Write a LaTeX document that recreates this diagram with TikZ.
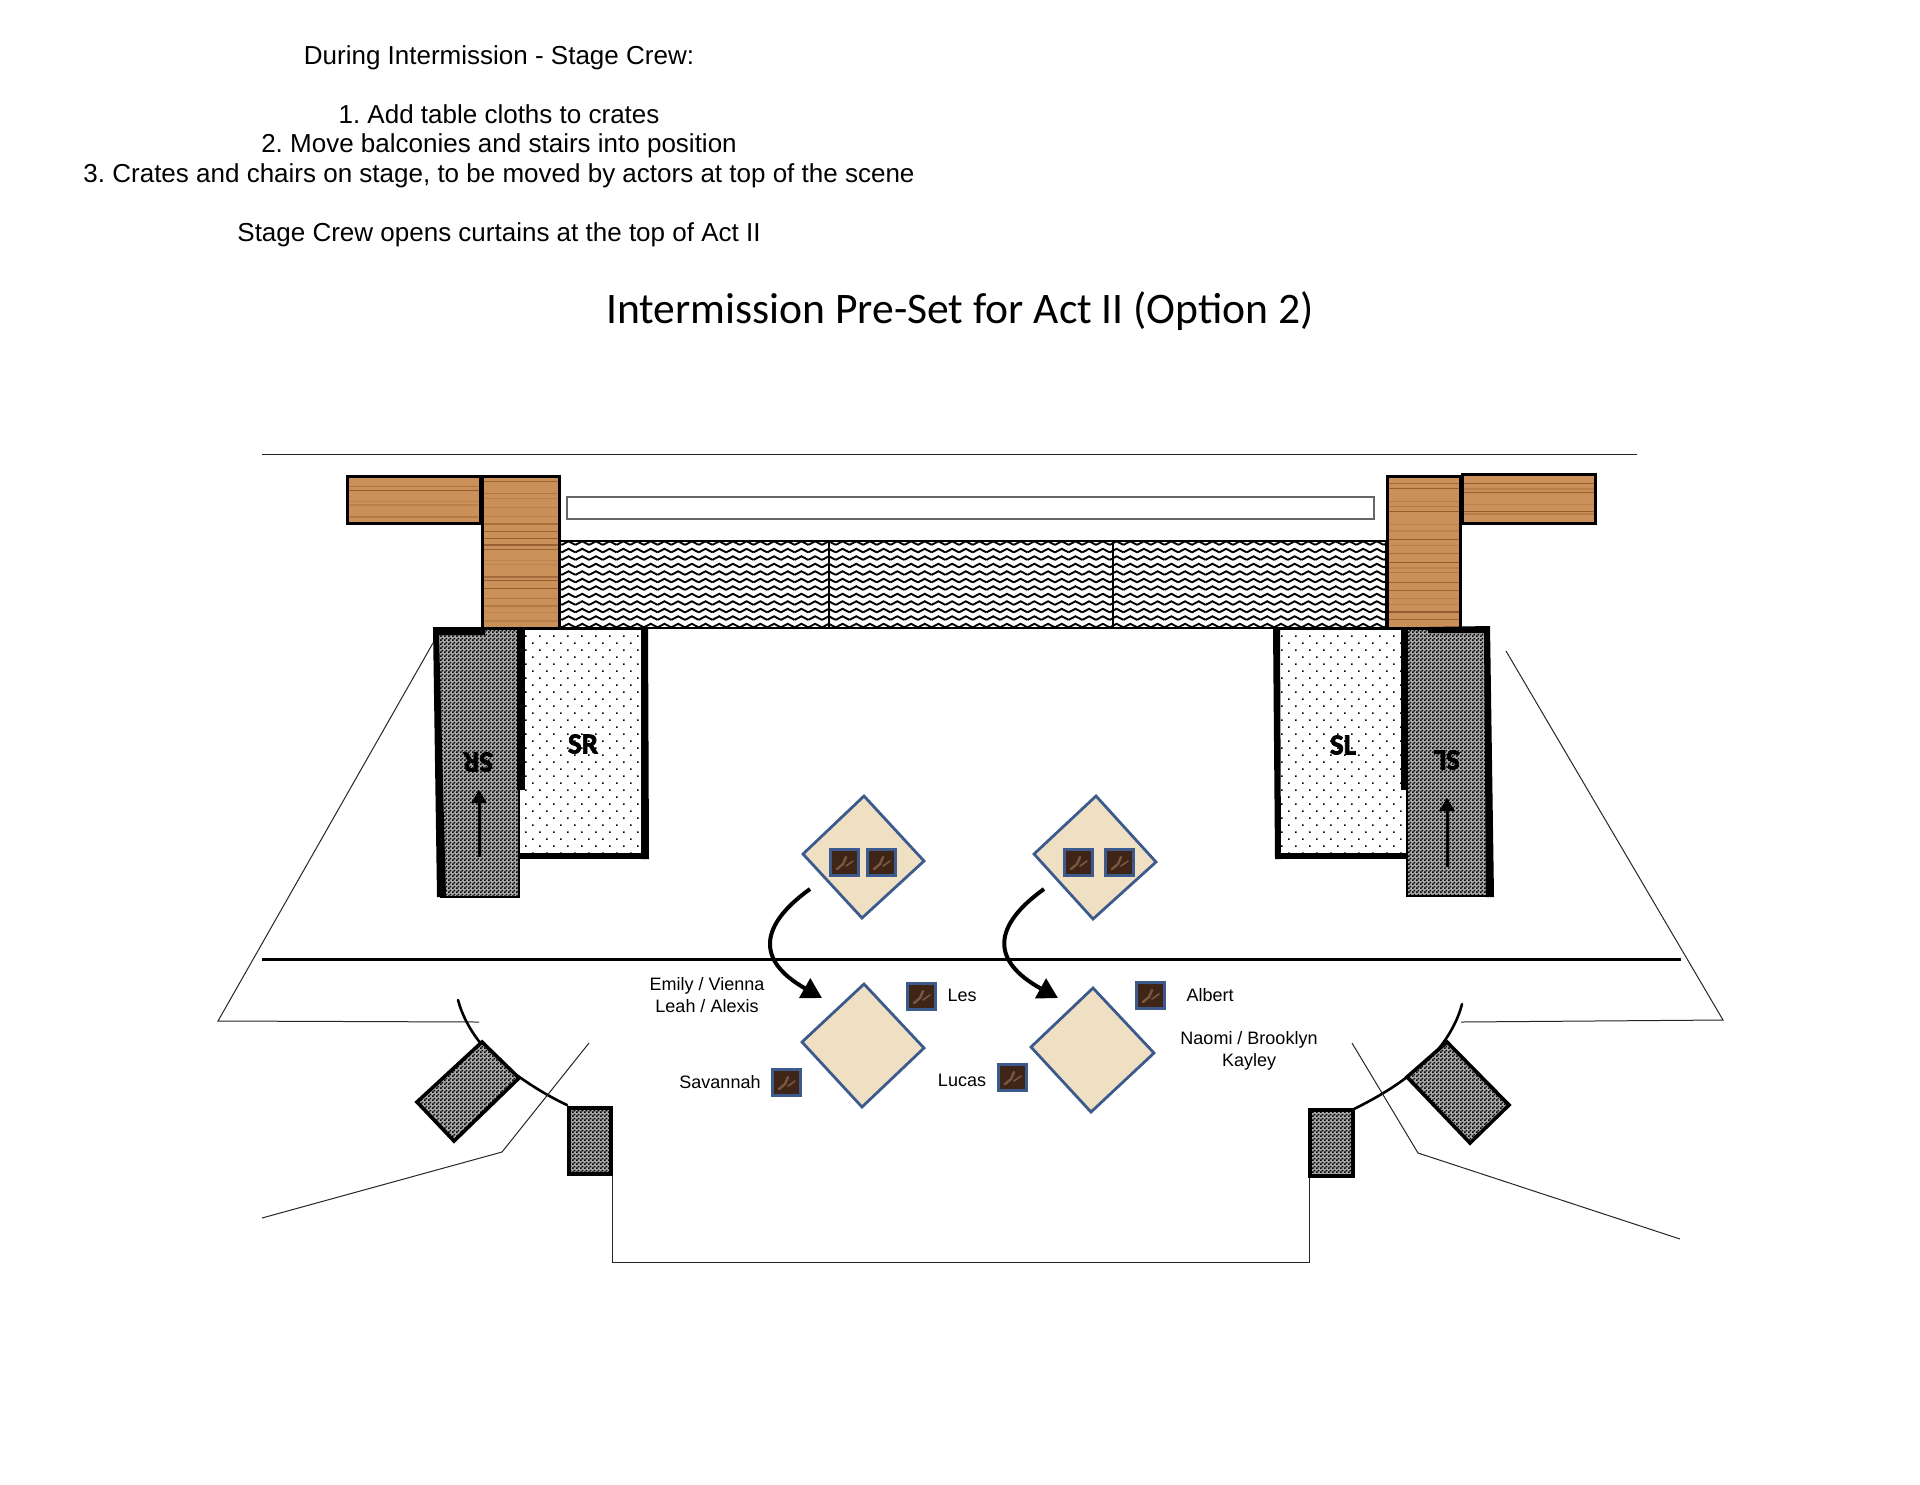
\documentclass[tikz,border=0pt]{standalone}
\usepackage{fontspec}
\setmainfont{Liberation Sans}
\newfontfamily\titlefont{Carlito}
\newfontfamily\wagonfont[FakeBold=2.5]{Carlito Bold}
\usetikzlibrary{patterns,arrows.meta}

\definecolor{woodbase}{HTML}{CB9059}
\definecolor{woodline}{HTML}{7E4A20}
\definecolor{marble}{HTML}{EFE0C3}
\definecolor{edgeblue}{HTML}{3C5A8C}
\definecolor{seatbrown}{HTML}{3F2517}
\definecolor{seatlight}{HTML}{7A5840}
\definecolor{barline}{HTML}{666666}
\definecolor{wagonbase}{HTML}{A8A8A8}

\pgfdeclarepatternformonly{wavepat}{\pgfqpoint{-1pt}{-1pt}}{\pgfqpoint{8pt}{5pt}}{\pgfqpoint{6.85pt}{3.75pt}}{
  \pgfsetlinewidth{0.95pt}
  \pgfpathmoveto{\pgfqpoint{0pt}{0.8pt}}
  \pgfpathlineto{\pgfqpoint{3.42pt}{2.6pt}}
  \pgfpathlineto{\pgfqpoint{6.85pt}{0.8pt}}
  \pgfusepath{stroke}
}
\pgfdeclarepatternformonly{dotpat}{\pgfqpoint{-1pt}{-1pt}}{\pgfqpoint{8pt}{8pt}}{\pgfqpoint{7pt}{7pt}}{
  \pgfpathrectangle{\pgfqpoint{0pt}{0pt}}{\pgfqpoint{0.85pt}{0.85pt}}
  \pgfpathrectangle{\pgfqpoint{3.5pt}{3.5pt}}{\pgfqpoint{0.85pt}{0.85pt}}
  \pgfusepath{fill}
}
\pgfdeclarepatternformonly{checkpat}{\pgfqpoint{0pt}{0pt}}{\pgfqpoint{2pt}{2pt}}{\pgfqpoint{2pt}{2pt}}{
  \pgfpathrectangle{\pgfqpoint{0pt}{0pt}}{\pgfqpoint{1pt}{1pt}}
  \pgfpathrectangle{\pgfqpoint{1pt}{1pt}}{\pgfqpoint{1pt}{1pt}}
  \pgfusepath{fill}
}

\tikzset{
  thinline/.style={line width=0.5pt, draw=black!85},
  frontline/.style={line width=1.3pt, line cap=round},
  heavyarrow/.style={line width=2pt, -{Triangle[length=10pt,width=11pt]}},
  wagonarrow/.style={line width=1.5pt, -{Triangle[length=6.5pt,width=7.5pt]}},
  wavebox/.style={draw=black, line width=1pt, pattern=wavepat},
  dotbox/.style={pattern=dotpat},
  checkbox/.style={preaction={fill=wagonbase}, pattern=checkpat},
  sidebox/.style={line width=1.8pt, preaction={fill=wagonbase}, pattern=checkpat},
  marblebox/.style={fill=marble, draw=edgeblue, line width=1.4pt, line join=miter},
  seatbox/.style={fill=seatbrown, draw=edgeblue, line width=1.5pt},
  tag/.style={font=\fontsize{9}{11}\selectfont, align=center, inner sep=0pt},
  wagonname/.style={font=\wagonfont\fontsize{14.5}{16}\selectfont, inner sep=0pt},
}

\newcommand{\woodblock}[4]{
  \fill[woodbase] (#1,#2) rectangle (#3,#4);
  \pgfmathtruncatemacro{\woodrows}{(#4-#2)/8}
  \foreach \k in {1,...,\woodrows} {
    \pgfmathsetmacro{\woody}{#2+(#4-#2)*\k/(\woodrows+1)+3*rand}
    \pgfmathsetmacro{\woodop}{0.15+0.6*rnd}
    \draw[woodline, line width=0.6pt, opacity=\woodop] (#1,\woody) -- (#3,\woody);
  }
  \draw[line width=1.5pt] (#1,#2) rectangle (#3,#4);
}
\newcommand{\seat}[2]{
  \draw[seatbox] (#1,#2) rectangle ++(28,26);
  \draw[seatlight, line width=1.2pt, line cap=round] (#1+7,#2+20) -- (#1+13,#2+15) -- (#1+16,#2+8);
  \draw[seatlight, line width=0.8pt, line cap=round] (#1+16,#2+17) -- (#1+23,#2+12);
}

\begin{document}
\begin{tikzpicture}[x=0.5pt,y=-0.5pt]
  \useasboundingbox (0,0) rectangle (1920,1484);
  \pgfmathsetseed{17}
  % text
  \node[align=center, font=\frenchspacing\fontsize{13}{14.75}\selectfont, inner sep=0pt] (notes) at (499,146) {During Intermission - Stage Crew:\\ \\1. Add table cloths to crates\\2. Move balconies and stairs into position\\3. Crates and chairs on stage, to be moved by actors at top of the scene\\ \\Stage Crew opens curtains at the top of Act II};
  \node[font=\titlefont\fontsize{21.8}{25}\selectfont, inner sep=0pt] (title) at (960,311) {Intermission Pre-Set for Act II (Option 2)};
  % back wall
  \draw[thinline] (262,454) -- (1637,454);
  \draw[barline, line width=0.7pt] (567,497) rectangle (1374,519);
  \draw[wavebox] (559,541) rectangle (1386,628);
  \draw[line width=1pt] (829,541) -- (829,628);
  \draw[line width=1pt] (1113,541) -- (1113,628);
  \woodblock{347}{476}{480}{523}
  \woodblock{482}{476}{559}{628}
  \woodblock{1387}{476}{1460}{628}
  \woodblock{1462}{474}{1595}{523}
  % SR wagons
  \fill[dotbox] (519,629) rectangle (645,856);
  \draw[line width=1pt] (519,629) -- (645,629);
  \fill (641,628) -- (648,628) -- (649,859) -- (641,859) -- cycle;
  \fill (519,853) rectangle (649,859);
  \fill[checkbox] (439,630) rectangle (519,896);
  \fill (517,628) rectangle (525,790);
  \draw[line width=0.8pt] (519,790) -- (519,897) -- (440,897);
  \fill (433,627) -- (485,627) -- (485,635) -- (439,635) -- (446,897) -- (437,897) -- cycle;
  \node[wagonname] (srflat) at (583,744) {SR};
  \node[wagonname, rotate=180] (srturn) at (478,762) {SR};
  \coordinate (srtail) at (479,857);
  \coordinate (srtip) at (479,790);
  \draw[wagonarrow] (srtail) -- (srtip);
  % SL wagons
  \fill[dotbox] (1279,629) rectangle (1407,856);
  \draw[line width=1pt] (1273,629) -- (1407,629);
  \fill (1273,628) -- (1280,628) -- (1281,859) -- (1275,859) -- cycle;
  \fill (1275,853) rectangle (1407,859);
  \fill[checkbox] (1407,630) rectangle (1488,896);
  \fill (1401,628) rectangle (1408,790);
  \draw[line width=0.8pt] (1407,790) -- (1407,896) -- (1490,896);
  \fill (1428,627) -- (1490,626) -- (1494,897) -- (1486,897) -- (1484,633) -- (1428,633) -- cycle;
  \node[wagonname] (slflat) at (1343,745) {SL};
  \node[wagonname, rotate=180] (slturn) at (1447,760) {SL};
  \coordinate (sltail) at (1447,867);
  \coordinate (sltip) at (1447,798);
  \draw[wagonarrow] (sltail) -- (sltip);
  % stage outline
  \draw[thinline] (433,643) -- (218,1021) -- (479,1022);
  \draw[thinline] (1506,651) -- (1723,1020) -- (1461,1022);
  \draw[line width=1.5pt] (262,959) -- (1681,959);
  \draw[frontline] (458,1000) .. controls (466,1030) and (490,1060) .. (518,1076) .. controls (535,1088) and (550,1097) .. (567,1105);
  \draw[frontline] (1462,1004) .. controls (1455,1032) and (1432,1062) .. (1407,1077) .. controls (1390,1090) and (1372,1100) .. (1354,1109);
  \draw[thinline] (589,1043) -- (502,1152) -- (262,1218);
  \draw[thinline] (1352,1043) -- (1418,1153) -- (1680,1239);
  \draw[thinline] (612,1174) -- (612,1262) -- (1309,1262) -- (1309,1176);
  \draw[sidebox] (482,1042) -- (519,1078) -- (454,1141) -- (417,1102) -- cycle;
  \draw[sidebox] (1447,1042) -- (1509,1105) -- (1470,1143) -- (1407,1077) -- cycle;
  \draw[sidebox] (569,1108) rectangle (611,1174);
  \draw[sidebox] (1310,1110) rectangle (1353,1176);
  % tables
  \draw[marblebox] (864,796) -- (924,861) -- (862,918) -- (803,854) -- cycle;
  \draw[marblebox] (1096,796) -- (1156,862) -- (1093,919) -- (1034,854) -- cycle;
  \draw[marblebox] (864,984) -- (924,1048) -- (862,1107) -- (802,1042) -- cycle;
  \draw[marblebox] (1093,988) -- (1154,1053) -- (1091,1112) -- (1031,1047) -- cycle;
  % chairs
  \foreach \sx/\sy in {830/849, 867/849, 1064/849, 1105/849, 907/983, 1136/982, 772/1069, 998/1064} {
    \seat{\sx}{\sy}
  }
  % moves
  \coordinate (moveastart) at (810,889);
  \coordinate (moveaend) at (822,998);
  \coordinate (movebstart) at (1044,889);
  \coordinate (movebend) at (1058,998);
  \draw[heavyarrow] (moveastart) .. controls (760,925) and (755,960) .. (moveaend);
  \draw[heavyarrow] (movebstart) .. controls (994,925) and (989,960) .. (movebend);
  % names
  \node[tag] (emily) at (707,995.5) {Emily / Vienna\\Leah / Alexis};
  \node[tag] (les) at (962,995) {Les};
  \node[tag] (savannah) at (720,1082) {Savannah};
  \node[tag] (lucas) at (962,1080) {Lucas};
  \node[tag] (albert) at (1210,995) {Albert};
  \node[tag] (naomi) at (1249,1050.5) {Naomi / Brooklyn\\Kayley};
\end{tikzpicture}
\end{document}
